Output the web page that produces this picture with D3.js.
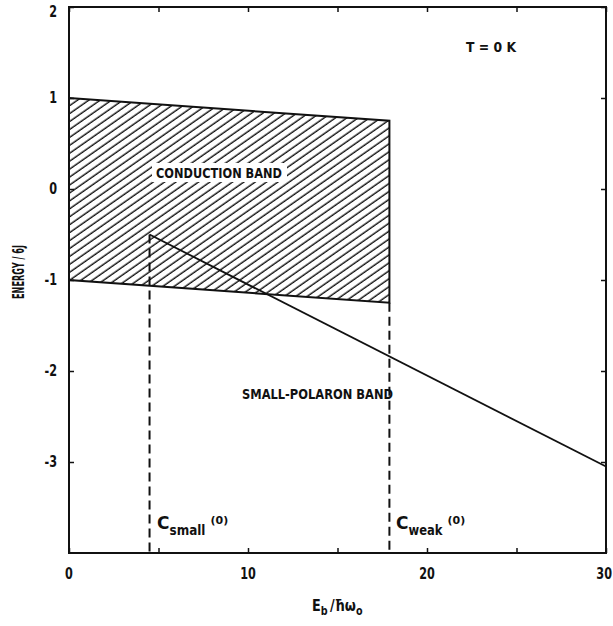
<!DOCTYPE html>
<html>
<head>
<meta charset="UTF-8">
<title>Polaron bands</title>
<script src="https://cdn.jsdelivr.net/npm/d3@7"></script>
<style>
  body { margin: 0; background: #fff; }
  text { font-family: "DejaVu Sans", sans-serif; fill: #111; }
  .lbl { font-size: 14px; font-weight: bold; }
</style>
</head>
<body>
<svg id="chart" width="613" height="626"></svg>
<script>
// data
var xTicks = [0, 10, 20, 30];
var xMinor = [0, 5, 10, 15, 20, 25, 30];
var yTicks = [2, 1, 0, -1, -2, -3];
var conductionTop = [[0, 1], [17.9, 0.75]];
var conductionBottom = [[0, -1], [17.9, -1.25]];
var polaronBand = [[4.5, -0.5], [30, -3.05]];
var cSmall = 4.5, cWeak = 17.9;

var svg = d3.select("#chart");
var x = d3.scaleLinear().domain([0, 30]).range([69, 606]);
var y = d3.scaleLinear().domain([-4, 2]).range([553, 7]);

// hatch pattern
var defs = svg.append("defs");
var pat = defs.append("pattern")
  .attr("id", "hatch")
  .attr("patternUnits", "userSpaceOnUse")
  .attr("width", 6.5).attr("height", 6.5)
  .attr("patternTransform", "rotate(-35)");
pat.append("line")
  .attr("x1", 0).attr("y1", 3).attr("x2", 6.5).attr("y2", 3)
  .attr("stroke", "#111").attr("stroke-width", 1.4);

var line = d3.line().x(function(d) { return x(d[0]); }).y(function(d) { return y(d[1]); });

// squeezed text, the original uses a narrow face
function narrow(sel, len) {
  return sel.attr("textLength", len).attr("lengthAdjust", "spacingAndGlyphs");
}
// horizontal squeeze around an anchor point
function squeeze(px, py, k) {
  return "translate(" + px + "," + py + ") scale(" + k + ",1) translate(" + (-px) + "," + (-py) + ")";
}

// conduction band polygon
var band = conductionTop.concat(conductionBottom.slice().reverse());
svg.append("path")
  .attr("d", line(band) + "Z")
  .attr("fill", "url(#hatch)")
  .attr("stroke", "#111").attr("stroke-width", 2);

// label with white box over hatching
svg.append("rect").attr("x", 152).attr("y", 163).attr("width", 135).attr("height", 19).attr("fill", "#fff");
narrow(svg.append("text").attr("class", "lbl").attr("x", 156).attr("y", 178).text("CONDUCTION BAND"), 126);

// small polaron band
svg.append("path")
  .attr("d", line(polaronBand))
  .attr("fill", "none").attr("stroke", "#111").attr("stroke-width", 1.8);

// dashed verticals
svg.append("line").attr("x1", x(cSmall)).attr("x2", x(cSmall))
  .attr("y1", y(polaronBand[0][1])).attr("y2", y(-4))
  .attr("stroke", "#111").attr("stroke-width", 2).attr("stroke-dasharray", "9,5");
svg.append("line").attr("x1", x(cWeak)).attr("x2", x(cWeak))
  .attr("y1", y(conductionBottom[1][1])).attr("y2", y(-4))
  .attr("stroke", "#111").attr("stroke-width", 2).attr("stroke-dasharray", "9,5");

// frame
svg.append("rect").attr("x", x(0)).attr("y", y(2))
  .attr("width", x(30) - x(0)).attr("height", y(-4) - y(2))
  .attr("fill", "none").attr("stroke", "#111").attr("stroke-width", 2);

// inward ticks
function noDomain(g) { g.select(".domain").remove(); }
svg.append("g").attr("transform", "translate(0," + y(-4) + ")")
  .call(d3.axisBottom(x).tickValues(xMinor).tickSizeInner(-5).tickSizeOuter(0).tickFormat("")).call(noDomain);
svg.append("g").attr("transform", "translate(0," + y(2) + ")")
  .call(d3.axisTop(x).tickValues(xMinor).tickSizeInner(-5).tickSizeOuter(0).tickFormat("")).call(noDomain);
svg.append("g").attr("transform", "translate(" + x(0) + ",0)")
  .call(d3.axisLeft(y).tickValues(yTicks).tickSizeInner(-5).tickSizeOuter(0).tickFormat("")).call(noDomain);
svg.append("g").attr("transform", "translate(" + x(30) + ",0)")
  .call(d3.axisRight(y).tickValues(yTicks).tickSizeInner(-5).tickSizeOuter(0).tickFormat("")).call(noDomain);
svg.selectAll(".tick line").attr("stroke", "#111").attr("stroke-width", 1.5);

// tick labels
var lastX = xTicks[xTicks.length - 1];
svg.selectAll(".xl").data(xTicks).enter().append("text")
  .attr("class", "lbl")
  .attr("x", function(d) { return d === lastX ? 612 : x(d); })
  .attr("y", 579)
  .attr("text-anchor", function(d) { return d === lastX ? "end" : "middle"; })
  .style("font-size", "15px")
  .attr("transform", function(d) { return squeeze(d === lastX ? 612 : x(d), 0, 0.75); })
  .text(function(d) { return d; });
svg.selectAll(".yl").data(yTicks).enter().append("text")
  .attr("class", "lbl").attr("x", 57).attr("y", function(d) { return Math.max(y(d) + 5, 17); })
  .attr("text-anchor", "end").style("font-size", "15px")
  .attr("transform", squeeze(57, 0, 0.75))
  .text(function(d) { return d; });

// annotations
narrow(svg.append("text").attr("class", "lbl").attr("x", 466).attr("y", 52).text("T = 0 K"), 50);
narrow(svg.append("text").attr("class", "lbl").attr("x", 242).attr("y", 399).text("SMALL-POLARON BAND"), 151);

var cs = svg.append("text").attr("class", "lbl").attr("x", 157).attr("y", 529).style("font-size", "17px");
cs.append("tspan").text("C");
narrow(cs.append("tspan").attr("dy", 6).style("font-size", "14px").text("small"), 36);
cs.append("tspan").attr("dy", -11).attr("dx", 5).style("font-size", "11px").text("(0)");

var cw = svg.append("text").attr("class", "lbl").attr("x", 396).attr("y", 529).style("font-size", "17px");
cw.append("tspan").text("C");
narrow(cw.append("tspan").attr("dy", 6).style("font-size", "14px").text("weak"), 34);
cw.append("tspan").attr("dy", -11).attr("dx", 5).style("font-size", "11px").text("(0)");

// axis titles
var xt = svg.append("text").attr("class", "lbl").attr("x", 312).attr("y", 611).style("font-size", "16px")
  .attr("transform", squeeze(312, 0, 0.8));
xt.append("tspan").text("E");
xt.append("tspan").attr("dy", 4).style("font-size", "12px").text("b");
xt.append("tspan").attr("dy", -4).attr("dx", 3).text("/ħω");
xt.append("tspan").attr("dy", 4).style("font-size", "12px").text("o");

var yt = svg.append("text").attr("class", "lbl")
  .attr("text-anchor", "middle").style("font-size", "15px").text("ENERGY / 6J");
var ytLen = yt.node().getComputedTextLength();
yt.attr("transform", "translate(24,272) rotate(-90) scale(" + (54 / ytLen) + ",1)");
</script>
</body>
</html>
